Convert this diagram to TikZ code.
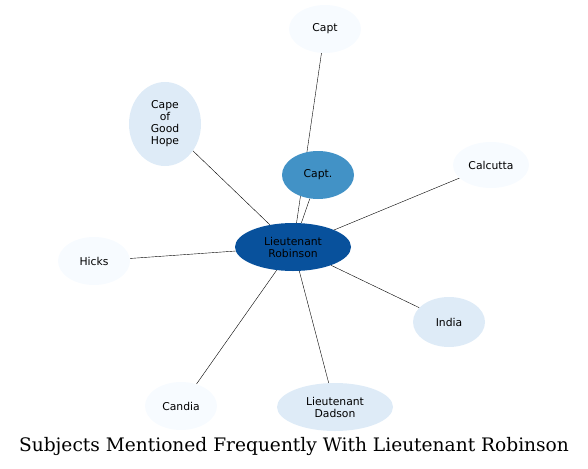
\documentclass[tikz,border=0pt]{standalone}
\usepackage{fontspec}
\newfontfamily\nodefont{DejaVu Sans}
\newfontfamily\titlefont{DejaVu Serif}
\usetikzlibrary{shapes.geometric,backgrounds}
\definecolor{bluedark}{HTML}{08519C}
\definecolor{bluemid}{HTML}{4292C6}
\definecolor{bluelight}{HTML}{DEEBF7}
\definecolor{bluepale}{HTML}{F7FBFF}
\begin{document}
\begin{tikzpicture}[x=1pt, y=-1pt, every node/.style={font=\nodefont\fontsize{10.8}{12}\selectfont},
  subj/.style={ellipse,inner sep=0pt,minimum width=72pt,minimum height=48pt,align=center},
  wide/.style={subj,minimum width=116pt}]
  \useasboundingbox (0,0) rectangle (588,468);
  \node[wide,fill=bluedark] (robinson) at (293,247) {Lieutenant\\Robinson};
  \node[subj,fill=bluemid] (captdot) at (318,175) {Capt.};
  \node[subj,fill=bluepale] (capt) at (325,29) {Capt};
  \node[subj,fill=bluelight,minimum height=84pt] (cape) at (165,124) {Cape\\of\\Good\\Hope};
  \node[subj,fill=bluepale,minimum width=76pt,minimum height=46pt] (calcutta) at (491,165) {Calcutta};
  \node[subj,fill=bluepale] (hicks) at (94,261) {Hicks};
  \node[subj,fill=bluelight,minimum height=50pt] (india) at (449,322) {India};
  \node[wide,fill=bluelight] (dadson) at (335,407) {Lieutenant\\Dadson};
  \node[subj,fill=bluepale] (candia) at (181,406) {Candia};
  \begin{scope}[on background layer, line width=1pt]
    \draw (robinson.center) -- (capt.center); \draw (robinson) -- (captdot);
    \draw (robinson) -- (cape); \draw (robinson) -- (calcutta);
    \draw (robinson) -- (hicks); \draw (robinson) -- (india);
    \draw (robinson) -- (dadson); \draw (robinson) -- (candia);
  \end{scope}
  \node[font=\titlefont\fontsize{18.6}{21}\selectfont] (title) at (294,446) {Subjects Mentioned Frequently With Lieutenant Robinson};
\end{tikzpicture}
\end{document}
